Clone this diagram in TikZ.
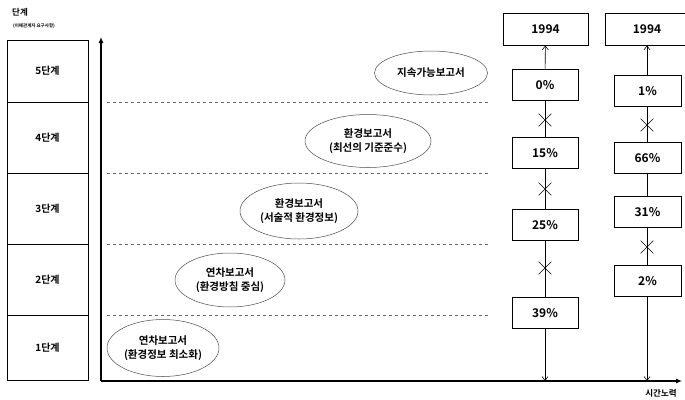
\documentclass[tikz,border=0pt]{standalone}
\usepackage{fontspec}
\setmainfont{Noto Sans CJK KR}[BoldFont={Noto Sans CJK KR Bold}]
\usetikzlibrary{shapes.geometric,shapes.misc,arrows.meta}

\tikzset{every picture/.style={line width=0.75pt}}
\tikzset{
  stagebox/.style={draw, minimum width=81pt, inner sep=0pt, font=\fontsize{10}{12}\selectfont\bfseries},
  report/.style={draw=black!70, line width=0.5pt, ellipse, inner sep=0pt, align=center, font=\fontsize{10.5}{14}\selectfont\bfseries},
  pctbox/.style={draw, minimum width=66pt, minimum height=31pt, inner sep=0pt, font=\fontsize{12}{14}\selectfont\bfseries},
  yearbox/.style={pctbox, minimum width=85pt, minimum height=32pt},
  cutmark/.style={draw, cross out, line width=0.6pt, minimum size=12pt, inner sep=0pt},
  guide/.style={draw=black!60, line width=0.5pt, dash pattern={on 3pt off 3pt}},
  axis/.style={line width=1.1pt, -{Latex[length=6pt,width=5pt]}},
  track/.style={line width=0.6pt},
  trackarrow/.style={track, -{Straight Barb[length=4pt,width=6pt]}}
}

\begin{document}
\begin{tikzpicture}[x=1pt,y=1pt,yscale=-1,xscale=1]
\useasboundingbox (0,0) rectangle (685,399);

% Text Node
\node[font=\fontsize{8.5}{10}\selectfont\bfseries] (title) at (20,12) {단계};
% Text Node
\node[font=\fontsize{4.5}{6}\selectfont\bfseries] (subtitle) at (34,26) {(이해관계자 요구사항)};

%Shape: stage column
\node[stagebox, minimum height=62pt] (s5) at (47.5,71) {5단계};
\node[stagebox, minimum height=71pt] (s4) at (47.5,137.5) {4단계};
\node[stagebox, minimum height=71pt] (s3) at (47.5,208.5) {3단계};
\node[stagebox, minimum height=71pt] (s2) at (47.5,279.5) {2단계};
\node[stagebox, minimum height=65pt] (s1) at (47.5,347.5) {1단계};

%Shape: Axis 2D
\coordinate (O) at (101,381);
\coordinate (ytop) at (101,37);
\coordinate (xend) at (682,381);
\draw[axis] (O) -- (ytop);
\draw[axis] (O) -- (xend);
% Text Node
\node[font=\fontsize{8.5}{10}\selectfont\bfseries] (xlabel) at (661,393) {시간노력};

%Straight Lines: stage guides
\foreach \y/\n in {102/g4,173/g3,244/g2,315/g1}{
  \coordinate (\n a) at (107,\y);
  \coordinate (\n b) at (488,\y);
  \draw[guide] (\n a) -- (\n b);
}

%Shape: Ellipses
\node[report, minimum width=113pt, minimum height=44pt] (r5) at (431,73) {지속가능보고서};
\node[report, minimum width=126pt, minimum height=53pt] (r4) at (368,141) {환경보고서\\(최선의 기준준수)};
\node[report, minimum width=118pt, minimum height=56pt] (r3) at (299,211) {환경보고서\\(서술적 환경정보)};
\node[report, minimum width=110pt, minimum height=54pt] (r2) at (230,280) {연차보고서\\(환경방침 중심)};
\node[report, minimum width=112pt, minimum height=57pt] (r1) at (163,348) {연차보고서\\(환경정보 최소화)};

%Shape: first column
\node[yearbox] (ya) at (545.5,29) {1994};
\node[pctbox] (a5) at (545,85) {0\%};
\node[pctbox] (a4) at (545,153) {15\%};
\node[pctbox] (a3) at (545,225) {25\%};
\node[pctbox] (a1) at (545,313) {39\%};
\node[cutmark] (xa1) at (545,120) {};
\node[cutmark] (xa2) at (545,189) {};
\node[cutmark] (xa3) at (545,268) {};
\coordinate (ea) at (545,381);
\draw[trackarrow] (a5) -- (ya);
\draw[track] (a5) -- (a4);
\draw[track] (a4) -- (a3);
\draw[track] (a3) -- (a1);
\draw[trackarrow] (a1) -- (ea);

%Shape: second column
\node[yearbox, minimum width=92pt] (yb) at (651,29) {};
\node[font=\fontsize{12}{14}\selectfont\bfseries] (ybt) at (647,29) {1994};
\node[pctbox, minimum width=67pt] (b5) at (647.5,91) {1\%};
\node[pctbox, minimum width=67pt] (b4) at (647.5,158) {66\%};
\node[pctbox, minimum width=67pt] (b3) at (647.5,212) {31\%};
\node[pctbox, minimum width=67pt] (b2) at (647.5,281) {2\%};
\node[cutmark] (xb1) at (647,125) {};
\node[cutmark] (xb2) at (647,247) {};
\coordinate (eb) at (647,381);
\draw[trackarrow] (b5.north -| ybt) -- (ybt |- yb.south);
\draw[track] (b5.south -| ybt) -- (b4.north -| ybt);
\draw[track] (b4.south -| ybt) -- (b3.north -| ybt);
\draw[track] (b3.south -| ybt) -- (b2.north -| ybt);
\draw[trackarrow] (b2.south -| ybt) -- (eb);

\end{tikzpicture}
\end{document}
